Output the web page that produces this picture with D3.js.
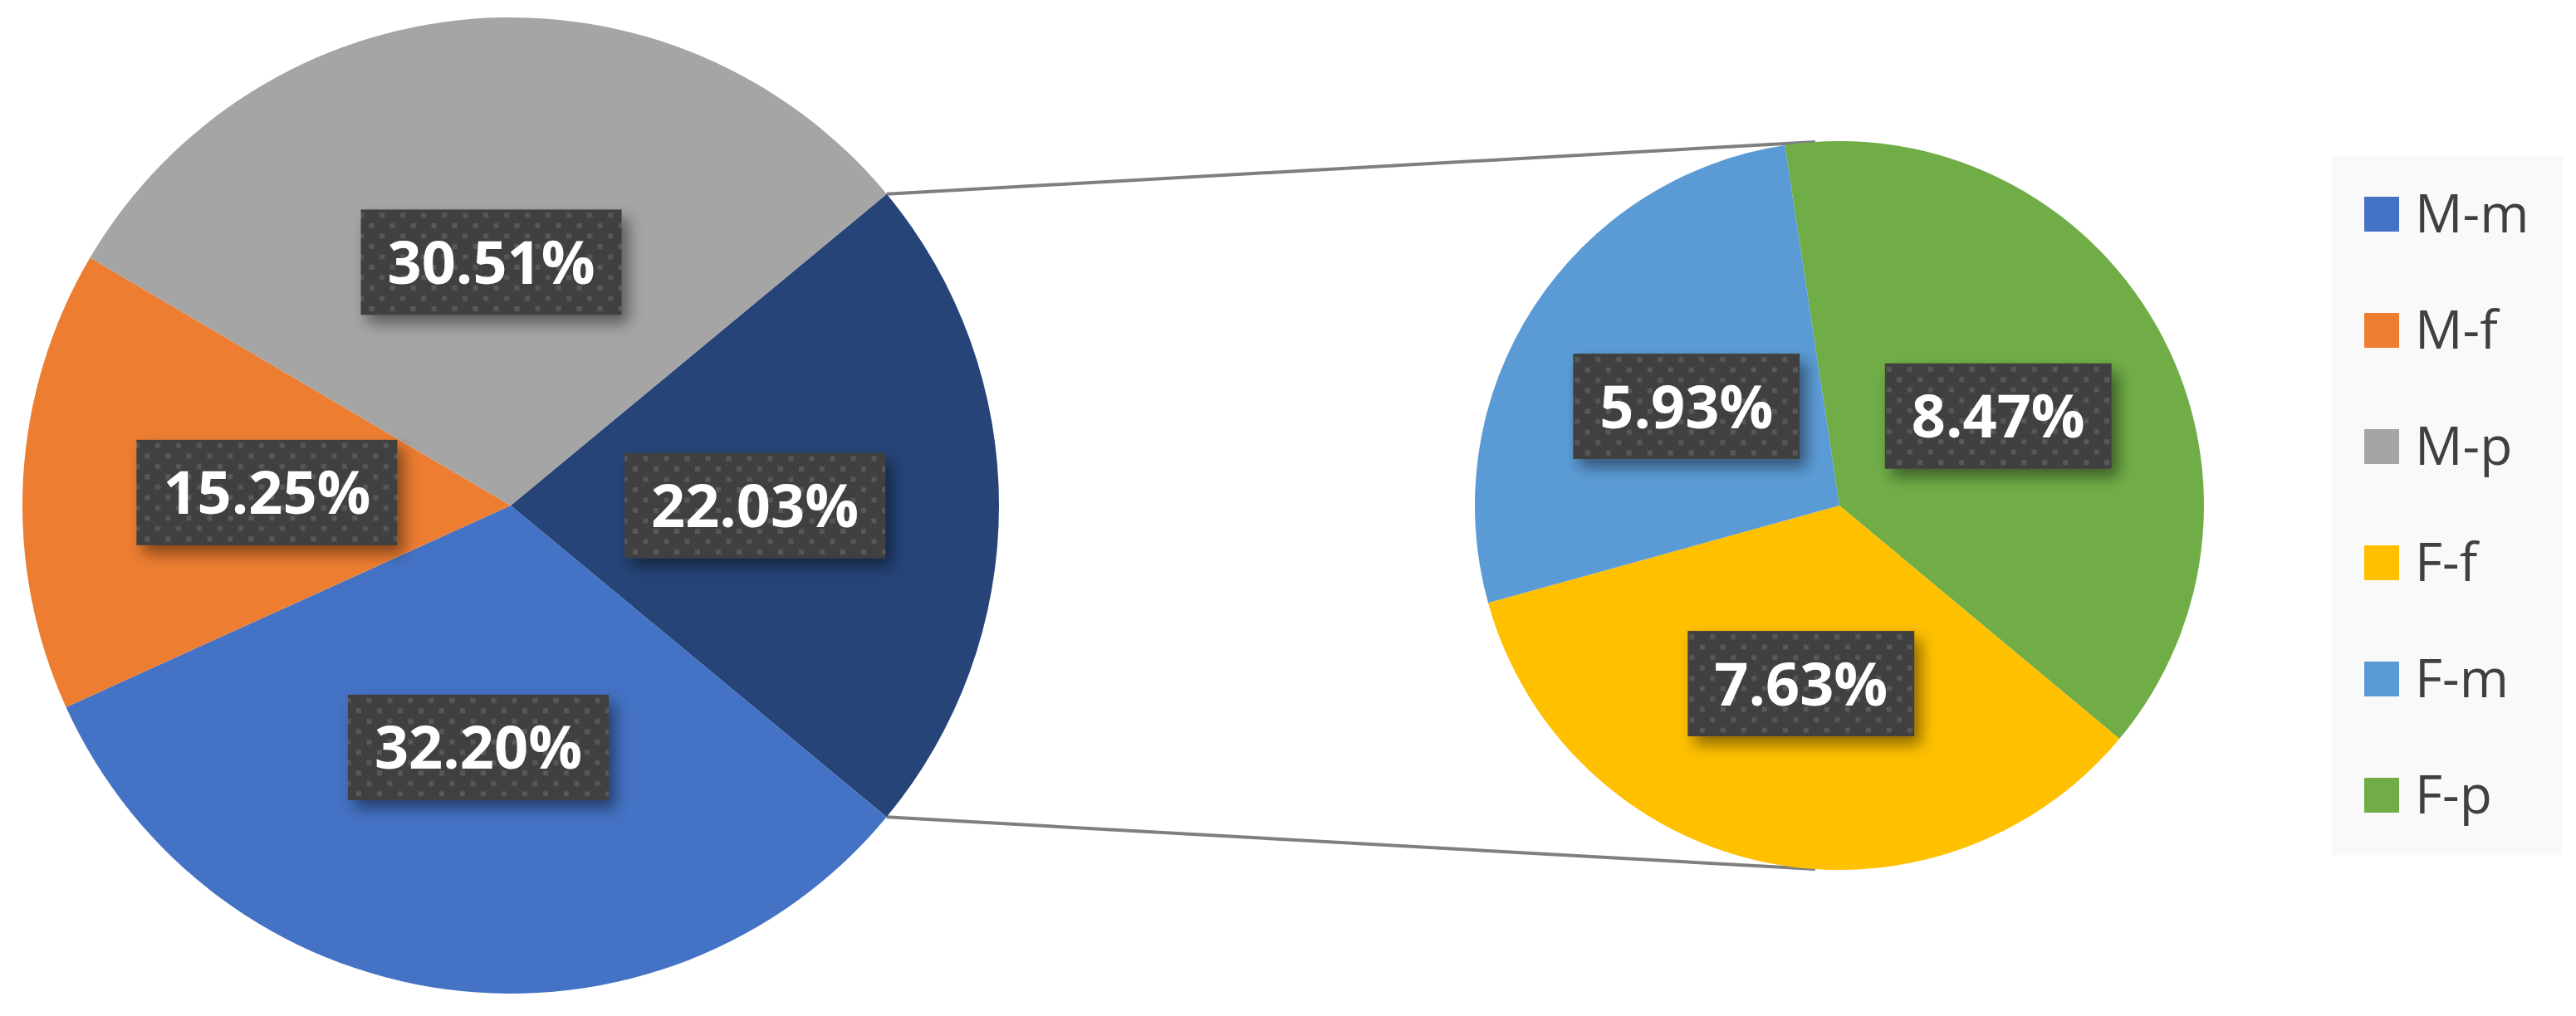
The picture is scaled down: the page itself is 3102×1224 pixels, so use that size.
<!DOCTYPE html>
<html><head><meta charset="utf-8">
<script src="https://cdn.jsdelivr.net/npm/d3@7"></script>
<style>body{margin:0;background:#fff}</style>
</head><body>
<script>
// main pie: three M slices plus the "other" slice that splits out into the F pie
var mainNames = ["other", "M-m", "M-f", "M-p"];
var mainValues = [22.03, 32.20, 15.25, 30.51];
var subNames = ["F-p", "F-f", "F-m"];
var subValues = [8.47, 7.63, 5.93];
var legendNames = ["M-m", "M-f", "M-p", "F-f", "F-m", "F-p"];

var color = d3.scaleOrdinal()
  .domain(["other", "M-m", "M-f", "M-p", "F-f", "F-m", "F-p"])
  .range(["#264478", "#4472C4", "#ED7D31", "#A5A5A5", "#FFC000", "#5B9BD5", "#70AD47"]);

var W = 3102, H = 1224;
var svg = d3.select("body").append("svg").attr("width", W).attr("height", H);
var defs = svg.append("defs");

var pat = defs.append("pattern").attr("id", "dots").attr("patternUnits", "userSpaceOnUse")
  .attr("width", 25).attr("height", 25);
pat.append("rect").attr("width", 25).attr("height", 25).attr("fill", "#404040");
pat.append("rect").attr("x", 3).attr("y", 3).attr("width", 6).attr("height", 6).attr("fill", "#585858");
pat.append("rect").attr("x", 15.5).attr("y", 15.5).attr("width", 6).attr("height", 6).attr("fill", "#585858");

var f = defs.append("filter").attr("id", "shadow").attr("x", "-20%").attr("y", "-30%").attr("width", "150%").attr("height", "170%");
f.append("feDropShadow").attr("dx", 8).attr("dy", 10).attr("stdDeviation", 9)
  .attr("flood-color", "#000").attr("flood-opacity", 0.45);

var mc = [615, 609], mr = 588;
var sc = [2215, 609], sr = 439;
var deg = Math.PI / 180;

var mainStart = 90 - 39.65;
var mainPie = d3.pie().sort(null).startAngle(mainStart * deg).endAngle((mainStart + 360) * deg);
var subPie = d3.pie().sort(null).startAngle(-8.6 * deg).endAngle(351.4 * deg);

var mainArcs = mainPie(mainValues);
var subArcs = subPie(subValues);
var mainArc = d3.arc().innerRadius(0).outerRadius(mr);
var subArc = d3.arc().innerRadius(0).outerRadius(sr);

// connector lines from the "other" slice edges to the second pie
var o = mainArcs[0];
function pt(c, r, a) { return [c[0] + r * Math.sin(a), c[1] - r * Math.cos(a)]; }
var lines = [
  [pt(mc, mr, o.startAngle), pt(sc, sr, -3.8 * deg)],
  [pt(mc, mr, o.endAngle), pt(sc, sr, 183.8 * deg)]
];
svg.selectAll("line.conn").data(lines).enter().append("line")
  .attr("x1", d => d[0][0]).attr("y1", d => d[0][1])
  .attr("x2", d => d[1][0]).attr("y2", d => d[1][1])
  .attr("stroke", "#7f7f7f").attr("stroke-width", 4);

var gm = svg.append("g").attr("transform", "translate(" + mc + ")");
gm.selectAll("path").data(mainArcs).enter().append("path")
  .attr("d", mainArc).attr("fill", (d, i) => color(mainNames[i]));
var gs = svg.append("g").attr("transform", "translate(" + sc + ")");
gs.selectAll("path").data(subArcs).enter().append("path")
  .attr("d", subArc).attr("fill", (d, i) => color(subNames[i]));

function label(g, arcs, arcGen) {
  arcs.forEach(function(d) {
    var c = arcGen.centroid(d);
    var lg = g.append("g").attr("transform", "translate(" + c + ")");
    var box = lg.append("rect").attr("fill", "url(#dots)").attr("filter", "url(#shadow)");
    var t = lg.append("text").attr("text-anchor", "middle").attr("dy", "0.36em")
      .attr("font-family", "'Open Sans', 'Noto Sans', sans-serif").attr("font-weight", "bold")
      .attr("font-size", 72).attr("fill", "#fff").text(d.value.toFixed(2) + "%");
    var w = t.node().getComputedTextLength() + 64, h = 127;
    box.attr("x", -w / 2).attr("y", -h / 2).attr("width", w).attr("height", h);
  });
}
label(gm, mainArcs, mainArc);
label(gs, subArcs, subArc);

// legend
var lgd = svg.append("g");
lgd.append("rect").attr("x", 2808).attr("y", 188).attr("width", 278).attr("height", 842).attr("fill", "#f9f9f9");
var y = d3.scalePoint().domain(legendNames).range([258, 958]);
var items = lgd.selectAll("g.item").data(legendNames).enter().append("g")
  .attr("transform", d => "translate(0," + y(d) + ")");
items.append("rect").attr("x", 2847).attr("y", -21).attr("width", 42).attr("height", 42).attr("fill", d => color(d));
items.append("text").attr("x", 2908).attr("dy", "0.35em").attr("font-size", 64)
  .attr("font-family", "'Open Sans', 'Noto Sans', sans-serif").attr("fill", "#404040").text(d => d);
</script>
</body></html>
